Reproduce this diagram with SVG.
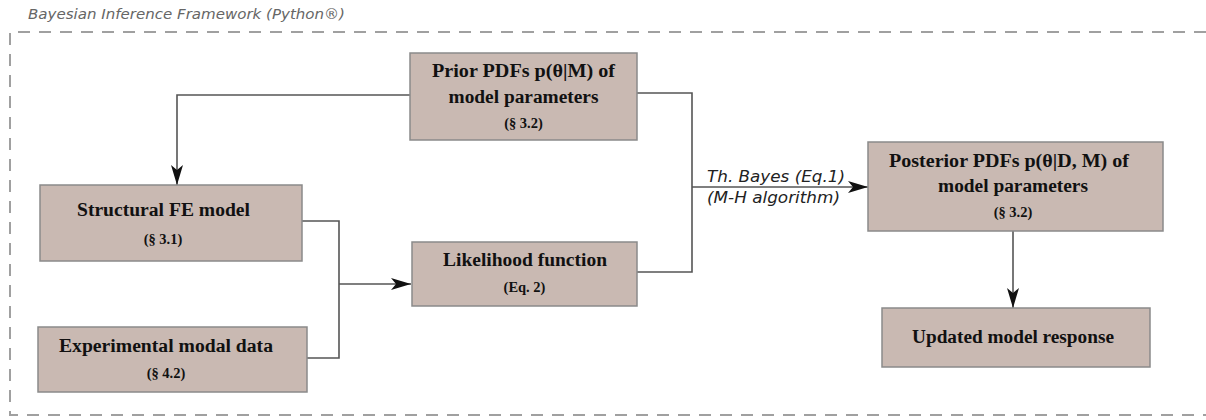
<svg xmlns="http://www.w3.org/2000/svg" width="1206" height="420" viewBox="0 0 1206 420">
<style>
.frame{fill:none;stroke:#a0a0a0;stroke-width:2;stroke-dasharray:12 9}
.title{font-family:"DejaVu Sans",sans-serif;font-style:italic;font-size:13.5px;fill:#666}
.box{fill:#c9b9b2;stroke:#8a8a8a;stroke-width:1.5}
.t{font-family:"Liberation Serif",serif;font-weight:bold;font-size:18.5px;fill:#111;text-anchor:middle}
.s{font-family:"Liberation Serif",serif;font-weight:bold;font-size:14.5px;fill:#111;text-anchor:middle}
.c{fill:none;stroke:#555;stroke-width:1.6}
.lab{font-family:"DejaVu Sans",sans-serif;font-style:italic;font-size:15px;fill:#222}
</style>
<defs>
<marker id="ah" viewBox="0 0 20 12" refX="20" refY="6" markerWidth="20" markerHeight="12" markerUnits="userSpaceOnUse" orient="auto">
<path d="M0,0 L20,6 L0,12 L5,6 Z" fill="#111"/>
</marker>
</defs>
<text class="title" x="28" y="19" textLength="317" lengthAdjust="spacingAndGlyphs">Bayesian Inference Framework (Python®)</text>
<path class="frame" d="M1206,32 H10 V415 H1206"/>
<g id="connectors">
<path class="c" d="M410,95 H177 V185" marker-end="url(#ah)"/>
<path class="c" d="M302,221 H339 V358 H307"/>
<path class="c" d="M339,284 H411" marker-end="url(#ah)"/>
<path class="c" d="M637,93 H692 V272 H637"/>
<path class="c" d="M692,187 H868" marker-end="url(#ah)"/>
<path class="c" d="M1013,231 V308" marker-end="url(#ah)"/>
<text class="lab" x="707" y="182" textLength="138" lengthAdjust="spacingAndGlyphs">Th. Bayes (Eq.1)</text>
<text class="lab" x="707" y="203" textLength="133" lengthAdjust="spacingAndGlyphs">(M-H algorithm)</text>
</g>
<g id="prior">
<rect class="box" x="410" y="53" width="227" height="87"/>
<text class="t" x="523.5" y="77" textLength="183" lengthAdjust="spacingAndGlyphs">Prior PDFs p(θ|M) of</text>
<text class="t" x="523.5" y="103" textLength="150" lengthAdjust="spacingAndGlyphs">model parameters</text>
<text class="s" x="523.5" y="128">(§ 3.2)</text>
</g>
<g id="structural">
<rect class="box" x="40" y="185" width="262" height="76"/>
<text class="t" x="163.5" y="216" textLength="173" lengthAdjust="spacingAndGlyphs">Structural FE model</text>
<text class="s" x="163" y="244">(§ 3.1)</text>
</g>
<g id="experimental">
<rect class="box" x="38" y="327" width="269" height="65"/>
<text class="t" x="166" y="352" textLength="214" lengthAdjust="spacingAndGlyphs">Experimental modal data</text>
<text class="s" x="166" y="378">(§ 4.2)</text>
</g>
<g id="likelihood">
<rect class="box" x="412" y="242" width="225" height="64"/>
<text class="t" x="525" y="266" textLength="164" lengthAdjust="spacingAndGlyphs">Likelihood function</text>
<text class="s" x="524.5" y="292">(Eq. 2)</text>
</g>
<g id="posterior">
<rect class="box" x="868" y="142" width="295" height="89"/>
<text class="t" x="1009" y="167" textLength="240" lengthAdjust="spacingAndGlyphs">Posterior PDFs p(θ|D, M) of</text>
<text class="t" x="1013" y="192" textLength="150" lengthAdjust="spacingAndGlyphs">model parameters</text>
<text class="s" x="1013" y="217">(§ 3.2)</text>
</g>
<g id="updated">
<rect class="box" x="882" y="308" width="268" height="59"/>
<text class="t" x="1013" y="343" textLength="202" lengthAdjust="spacingAndGlyphs">Updated model response</text>
</g>
</svg>
